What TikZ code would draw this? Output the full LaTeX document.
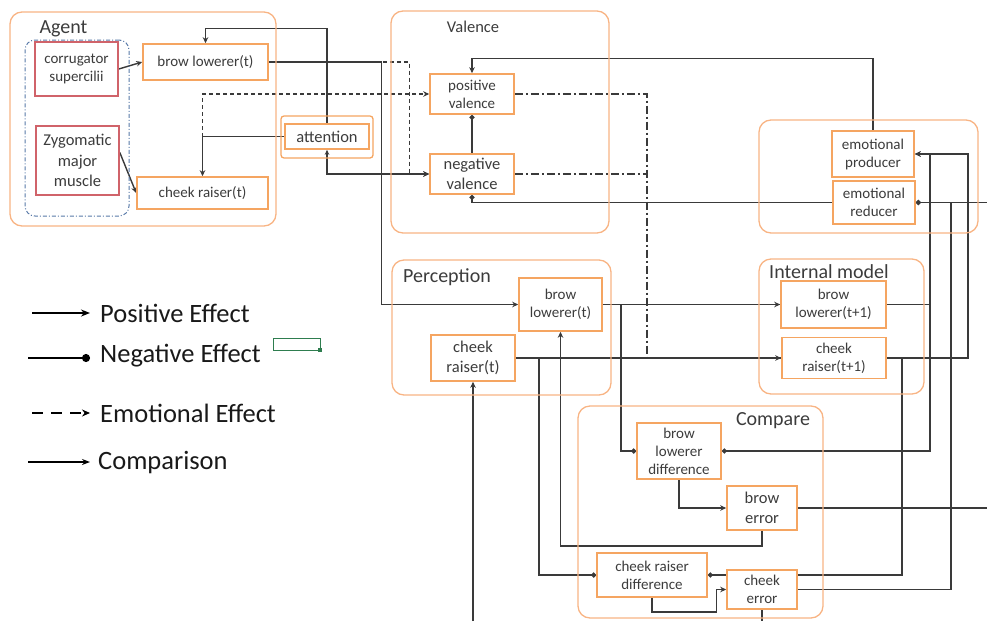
\documentclass[tikz,border=0pt]{standalone}
\usepackage{fontspec}
\setmainfont{Carlito}
\usetikzlibrary{arrows.meta,backgrounds}

\definecolor{contOr}{HTML}{F8B484}
\definecolor{boxOr}{HTML}{F5A561}
\definecolor{musRed}{HTML}{D0636A}
\definecolor{grpBlue}{HTML}{5879A8}
\definecolor{selGreen}{HTML}{2E7D4F}
\definecolor{wireC}{HTML}{3A3A3A}
\definecolor{txt}{HTML}{3C3C3C}

\tikzset{
  sz/.style 2 args={minimum width=#1,minimum height=#2},
  container/.style={draw=contOr, line width=1.3pt, rounded corners=12pt, inner sep=0pt},
  unit/.style={draw=boxOr, line width=1.6pt, fill=white, inner sep=0pt, align=center,
    font=\fontsize{15}{18}\selectfont, text=txt},
  bigunit/.style={unit, font=\fontsize{16.5}{20}\selectfont},
  muscle/.style={unit, draw=musRed},
  title/.style={inner sep=0pt, font=\fontsize{20}{24}\selectfont, text=txt},
  legtext/.style={inner sep=0pt, anchor=west, font=\fontsize{26.5}{31}\selectfont, text=black!90},
  wire/.style={draw=wireC, line width=1.4pt},
  posfx/.style={wire, -{Stealth[length=6pt,width=5.5pt]}},
  negfx/.style={wire, -{Circle[length=5pt]}},
  emofx/.style={wire, dash pattern=on 4pt off 3pt, -{Stealth[length=6pt,width=5.5pt]}},
  ddash/.style={wire, line width=1.5pt, dash pattern=on 8pt off 3pt on 2pt off 3pt}
}

\begin{document}
\begin{tikzpicture}[x=1pt,y=-1pt]
\useasboundingbox (0,0) rectangle (987,621);

% ---------- group frames ----------
\node[container, sz={266pt}{214pt}] (agentC) at (143,119) {};
\node[title] (agentT) at (63.5,29) {Agent};
\node[draw=grpBlue, line width=1pt, dash pattern=on 4pt off 2pt on 1pt off 2pt,
      rounded corners=10pt, inner sep=0pt, sz={104pt}{176pt}] (muscles) at (77,128) {};

\node[container, sz={218pt}{222pt}] (valC) at (500,122) {};
\node[title, font=\fontsize{16.5}{20}\selectfont] (valT) at (473,27) {Valence};

\node[container, sz={219pt}{113pt}] (emoC) at (868.5,176.5) {};

\node[container, sz={219pt}{135pt}] (percC) at (501.5,327.5) {};
\node[title] (percT) at (447,277) {Perception};

\node[container, sz={165pt}{135pt}] (intC) at (841.5,326.5) {};
\node[title] (intT) at (829,272) {Internal model};

\node[container, sz={245pt}{212pt}] (cmpC) at (700.5,512) {};
\node[title] (cmpT) at (773,421) {Compare};

\node[draw=boxOr, line width=1.3pt, rounded corners=3pt, inner sep=0pt, sz={92pt}{42pt}] (attC) at (327,137) {};

% ---------- units ----------
\node[muscle, sz={83pt}{54pt}] (corr) at (76.5,69) {corrugator\\supercilii};
\node[muscle, sz={83pt}{69pt}, font=\fontsize{16.5}{20.5}\selectfont] (zyg) at (77.5,160.5) {Zygomatic\\major\\muscle};
\node[unit, sz={125pt}{36pt}] (browA) at (205.5,62) {brow lowerer(t)};
\node[unit, sz={131pt}{32pt}] (cheekA) at (202.5,193) {cheek raiser(t)};
\node[bigunit, sz={84pt}{25pt}] (att) at (327,136.5) {attention};

\node[unit, sz={84pt}{40pt}] (posV) at (472,94) {positive\\valence};
\node[bigunit, sz={84pt}{40pt}] (negV) at (472,174) {negative\\valence};

\node[unit, sz={82pt}{46pt}] (prod) at (873,154) {emotional\\producer};
\node[unit, sz={82pt}{43pt}] (red) at (874,202.5) {emotional\\reducer};

\node[unit, sz={83pt}{53pt}] (pBrow) at (560.5,304.5) {brow\\lowerer(t)};
\node[bigunit, sz={84pt}{46pt}] (pCheek) at (473,358) {cheek\\raiser(t)};

\node[unit, sz={105pt}{47pt}] (iBrow) at (833.5,304.5) {brow\\lowerer(t+1)};
\node[unit, sz={104pt}{41pt}] (iCheek) at (834,358) {cheek\\raiser(t+1)};

\node[unit, sz={84pt}{56pt}] (bDiff) at (679,451) {brow\\lowerer\\difference};
\node[bigunit, sz={70pt}{44pt}] (bErr) at (762,508) {brow\\error};
\node[unit, sz={110pt}{44pt}] (cDiff) at (652,575) {cheek raiser\\difference};
\node[unit, sz={70pt}{39pt}] (cErr) at (762,589.5) {cheek\\error};

% ---------- connectors ----------
\coordinate (vbus) at ([xshift=-134pt]iCheek.west);
\coordinate (errOut) at (cErr.south |- 0,621);
\coordinate (fbIn) at (pCheek.south |- 0,621);
\coordinate (redOut) at (red.east -| 987,0);
\coordinate (bErrOut) at (bErr.east -| 987,0);

\begin{scope}[on background layer]
  % agent
  \draw[posfx] (corr.east) -- (browA.west);
  \draw[posfx] ([yshift=8pt]zyg.east) -- (cheekA.west);
  \draw[posfx] (att.north) |- ([yshift=15pt]browA.north) -- (browA.north);
  \draw[posfx] (att.west) -| (cheekA.north);
  \draw[emofx] (cheekA.north |- att.west) |- (posV.west);
  \draw[posfx] (browA.east) -| ([xshift=-137pt]pBrow.west) -- (pBrow.west);
  \draw[emofx] ([xshift=114pt]browA.east) -| ([xshift=-20pt]negV.west) -- (negV.west);
  \draw[wire, {Stealth[length=5pt,width=4.5pt]}-{Stealth[length=6pt,width=5.5pt]}] (att.south) |- (negV.west);
  % valence
  \draw[negfx] (negV.north) -- (posV.south);
  \draw[posfx] (prod.north) |- ([yshift=15pt]posV.north) -- (posV.north);
  \draw[negfx] (red.west) -| (negV.south);
  \draw[ddash] (posV.east) -| (vbus) -- (iCheek.west);
  \draw[ddash] (negV.east) -- (negV.east -| vbus);
  \draw[ddash] (vbus |- iBrow.west) -- (iBrow.west);
  % perception
  \draw[posfx] (pBrow.east) -- (iBrow.west);
  \draw[negfx] ([xshift=18pt]pBrow.east) |- (bDiff.west);
  \draw[posfx] (pCheek.east) -- (iCheek.west);
  \draw[negfx] ([xshift=23pt]pCheek.east) |- (cDiff.west);
  \draw[posfx] (fbIn) -- (pCheek.south);
  % compare
  \draw[posfx] (bErr.south) -- ([yshift=-15pt]bErr.south) -| (pBrow.south);
  \draw[posfx] (bDiff.south) |- (bErr.west);
  \draw[wire] (bErr.east) -- (bErrOut);
  \draw[wire] (cErr.south) -- (errOut);
  \draw[posfx] (cDiff.south) -- ++(0,14) -| ([xshift=-10pt]cErr.west) -- (cErr.west);
  % internal model
  \draw[negfx] (iCheek.east) -| ([xshift=194pt]cDiff.east) -- (cDiff.east);
  \draw[posfx] (iCheek.east) -| ([xshift=53pt]prod.east) -- (prod.east);
  \draw[posfx] (iBrow.east) -| ([xshift=15pt]prod.east) -- (prod.east);
  \draw[negfx] (iBrow.east) -| ([xshift=208pt]bDiff.east) -- (bDiff.east);
  \draw[negfx] (cErr.east) -| ([xshift=35pt]red.east) -- (red.east);
  \draw[negfx] (redOut) -- (red.east);
\end{scope}

% ---------- legend ----------
\node[legtext] (lgPos) at (100,313) {Positive Effect};
\node[legtext] (lgNeg) at (100,356) {Negative Effect};
\node[legtext] (lgEmo) at (100,413) {Emotional Effect};
\node[legtext] (lgCmp) at (98,463) {Comparison};
\coordinate (lgPosS) at (32,313);
\coordinate (lgNegS) at (28,358);
\coordinate (lgEmoS) at (32,413);
\coordinate (lgCmpS) at (28,462);
\draw[wire, draw=black, line width=1.8pt, -{Stealth[length=9pt,width=7pt]}] (lgPosS) -- ([xshift=-10pt]lgPos.west);
\draw[wire, draw=black, line width=1.8pt, -{Circle[length=8pt]}] (lgNegS) -- ([xshift=-10pt,yshift=-2pt]lgNeg.west);
\draw[wire, draw=black, line width=1.8pt, dash pattern=on 11pt off 8pt, -{Stealth[length=8pt,width=7pt]}] (lgEmoS) -- ([xshift=-10pt]lgEmo.west);
\draw[wire, draw=black, line width=1.8pt, -{Stealth[length=8pt,width=6pt]}] (lgCmpS) -- ([xshift=-8pt,yshift=1pt]lgCmp.west);
\node[draw=selGreen, line width=1.3pt, inner sep=0pt, sz={47pt}{12pt}] (sel) at (297,344.5) {};
\node[fill=selGreen, inner sep=0pt, minimum size=4.5pt] (selH) at ([xshift=-1pt,yshift=1pt]sel.south east) {};
\end{tikzpicture}
\end{document}
